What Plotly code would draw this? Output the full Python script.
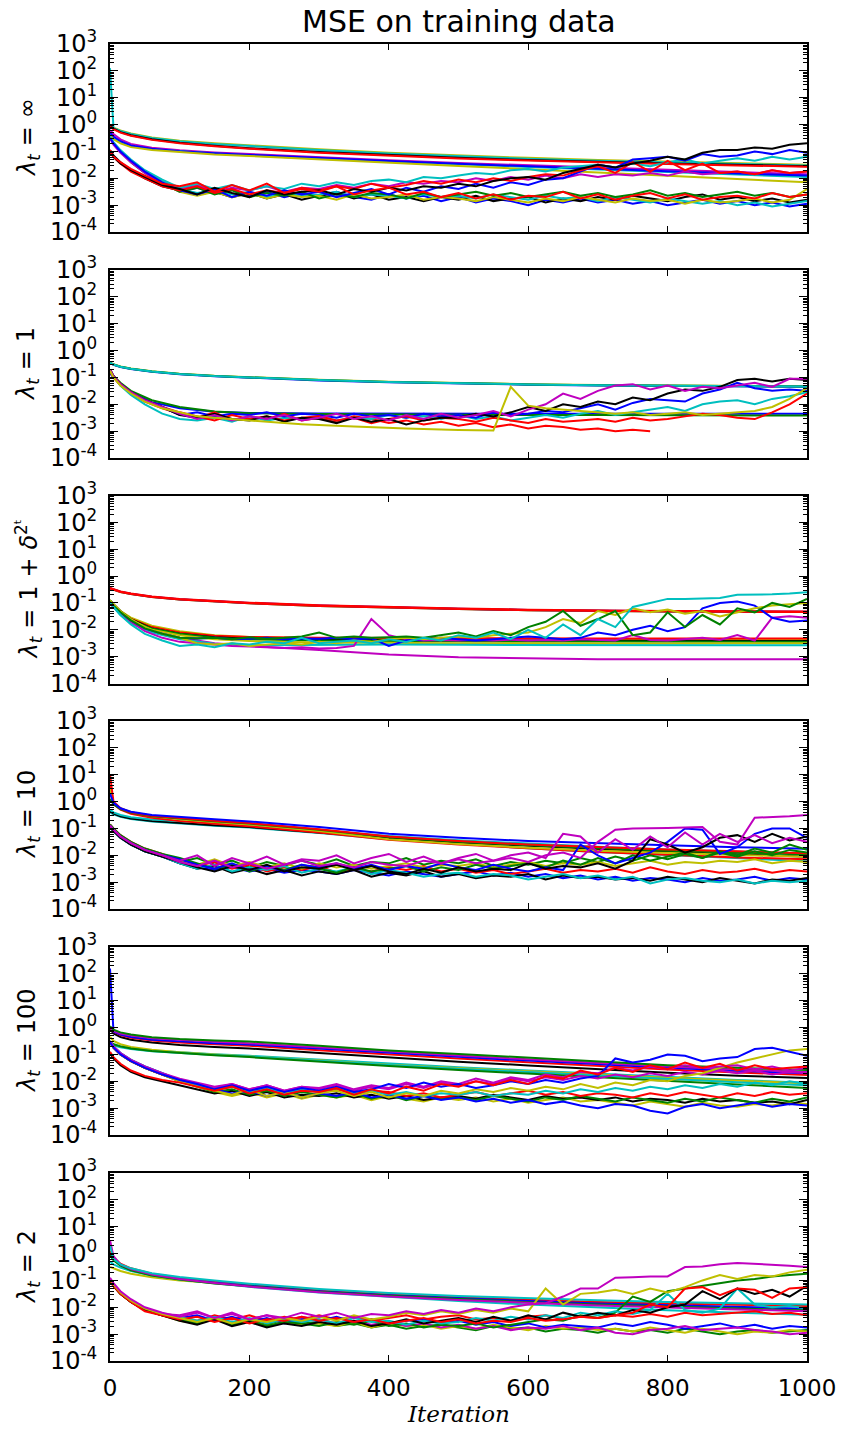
import plotly.graph_objects as go

# Sample iterations: smooth curves are stored coarsely, noisy runs every 25 iterations
ITER_SMOOTH = [0, 5, 15, 30, 60, 100, 150, 200, 300, 400, 500, 600, 700, 800, 900, 1000]
ITER_NOISY = [0, 5, 15, 30] + list(range(50, 1001, 25))

X_TICKS = [0, 200, 400, 600, 800, 1000]
Y_TICK_EXP = [-4, -3, -2, -1, 0, 1, 2, 3]

COLORS = {"b": "#0000ff", "g": "#008000", "r": "#ff0000", "c": "#00bfbf",
          "m": "#bf00bf", "y": "#bfbf00", "k": "#000000"}

# All series are log10(MSE)

# ---- lambda_t = inf ----
INF_SMOOTH_COLORS = ["y", "c", "k", "r", "m", "c", "b", "y"]
INF_SMOOTH = [
    [-0.05, -0.12, -0.22, -0.33, -0.48, -0.6, -0.7, -0.78, -0.92, -1.05, -1.15, -1.24, -1.32, -1.38, -1.44, -1.5],
    [2.1, -0.13, -0.24, -0.35, -0.5, -0.62, -0.72, -0.8, -0.95, -1.08, -1.18, -1.27, -1.35, -1.41, -1.47, -1.52],
    [-0.05, -0.15, -0.28, -0.4, -0.55, -0.68, -0.79, -0.88, -1.02, -1.14, -1.24, -1.32, -1.39, -1.45, -1.5, -1.55],
    [-0.07, -0.17, -0.3, -0.42, -0.57, -0.7, -0.81, -0.9, -1.05, -1.16, -1.26, -1.34, -1.41, -1.47, -1.52, -1.57],
    [-0.2, -0.35, -0.55, -0.72, -0.86, -0.96, -1.04, -1.1, -1.22, -1.33, -1.43, -1.52, -1.61, -1.69, -1.77, -1.85],
    [-0.35, -0.5, -0.66, -0.8, -0.92, -1.0, -1.08, -1.15, -1.27, -1.38, -1.48, -1.58, -1.68, -1.77, -1.86, -1.95],
    [-0.3, -0.45, -0.62, -0.78, -0.9, -0.99, -1.07, -1.13, -1.25, -1.36, -1.46, -1.56, -1.65, -1.74, -1.82, -1.9],
    [-0.4, -0.55, -0.7, -0.84, -0.95, -1.03, -1.11, -1.17, -1.3, -1.42, -1.54, -1.66, -1.78, -1.9, -2.02, -2.15],
]
INF_NOISY_COLORS = ["b", "k", "c", "y", "g", "m", "c", "b", "r", "k", "r"]
INF_NOISY = [
    [-0.5, -0.7, -1.0, -1.35, -1.75, -2.15,
     -2.5, -2.35, -2.55, -2.4, -2.65, -2.5, -2.7, -2.55,
     -2.65, -2.5, -2.7, -2.8, -2.6, -2.75, -2.65, -2.85,
     -2.7, -2.9, -2.75, -2.85, -3.0, -2.8, -2.9, -2.75,
     -2.9, -2.8, -2.95, -2.85, -3.0, -2.9, -2.8, -2.95,
     -2.85, -3.0, -2.9, -3.05, -2.95],
    [-0.95, -1.15, -1.4, -1.7, -2.0, -2.3,
     -2.45, -2.6, -2.5, -2.7, -2.55, -2.75, -2.6, -2.8,
     -2.65, -2.55, -2.75, -2.6, -2.8, -2.7, -2.85, -2.7,
     -2.8, -2.65, -2.85, -2.75, -2.7, -2.9, -2.75, -2.85,
     -2.7, -2.8, -2.65, -2.75, -2.85, -2.7, -2.6, -2.8,
     -2.7, -2.85, -2.75, -2.9, -2.8],
    [-0.5, -0.7, -1.0, -1.35, -1.75, -2.1,
     -2.4, -2.55, -2.45, -2.6, -2.5, -2.7, -2.55, -2.65,
     -2.6, -2.5, -2.7, -2.6, -2.65, -2.75, -2.6, -2.7,
     -2.65, -2.75, -2.6, -2.7, -2.8, -2.65, -2.75, -2.7,
     -2.85, -2.7, -2.8, -2.9, -2.75, -2.85, -2.95, -2.85,
     -3.0, -2.9, -3.05, -2.95, -2.85],
    [-0.45, -0.7, -1.0, -1.35, -1.75, -2.15,
     -2.5, -2.65, -2.5, -2.7, -2.55, -2.75, -2.6, -2.7,
     -2.65, -2.8, -2.6, -2.75, -2.7, -2.6, -2.8, -2.7,
     -2.75, -2.85, -2.7, -2.8, -2.9, -2.75, -2.85, -2.7,
     -2.8, -2.9, -2.75, -2.85, -2.8, -2.95, -2.8, -2.9,
     -2.85, -2.75, -2.9, -2.8, -2.4],
    [-0.5, -0.7, -1.0, -1.4, -1.8, -2.2,
     -2.5, -2.35, -2.6, -2.45, -2.7, -2.55, -2.65, -2.5,
     -2.75, -2.6, -2.7, -2.55, -2.6, -2.75, -2.55, -2.7,
     -2.6, -2.5, -2.65, -2.55, -2.7, -2.6, -2.5, -2.65,
     -2.55, -2.7, -2.6, -2.45, -2.65, -2.55, -2.7, -2.6,
     -2.5, -2.65, -2.55, -2.7, -2.6],
    [-0.5, -0.75, -1.05, -1.4, -1.8, -2.2,
     -2.4, -2.25, -2.5, -2.35, -2.45, -2.3, -2.5, -2.35,
     -2.4, -2.25, -2.35, -2.2, -2.3, -2.15, -2.2, -2.1,
     -2.15, -2.0, -2.1, -1.95, -2.05, -1.9, -2.0, -1.85,
     -1.95, -1.85, -1.9, -1.8, -1.9, -1.75, -1.85, -1.8,
     -1.75, -1.85, -1.7, -1.8, -1.75],
    [-0.45, -0.65, -0.95, -1.3, -1.7, -2.05,
     -2.35, -2.2, -2.4, -2.25, -2.45, -2.3, -2.4, -2.2,
     -2.3, -2.15, -2.25, -2.1, -2.05, -2.15, -1.95, -2.0,
     -1.9, -1.8, -1.85, -1.7, -1.65, -1.75, -1.6, -1.55,
     -1.5, -1.6, -1.45, -1.55, -1.4, -1.3, -1.45, -1.35,
     -1.25, -1.35, -1.2, -1.3, -1.2],
    [-0.5, -0.7, -1.0, -1.35, -1.75, -2.15,
     -2.45, -2.6, -2.4, -2.7, -2.5, -2.65, -2.45, -2.6,
     -2.5, -2.7, -2.55, -2.4, -2.6, -2.35, -2.5, -2.3,
     -2.4, -2.2, -2.35, -2.15, -2.25, -2.05, -2.0, -1.75,
     -1.5, -1.6, -1.3, -1.25, -1.2, -1.35, -1.1, -1.2,
     -1.15, -1.0, -1.1, -0.95, -1.05],
    [-0.95, -1.2, -1.45, -1.75, -2.0, -2.3,
     -2.45, -2.3, -2.55, -2.4, -2.6, -2.45, -2.55, -2.35,
     -2.45, -2.3, -2.4, -2.2, -2.35, -2.25, -2.1, -2.2,
     -2.05, -2.15, -2.0, -2.1, -1.95, -1.85, -1.9, -1.7,
     -1.55, -1.8, -1.4, -1.75, -1.35, -1.7, -1.45, -1.8,
     -1.75, -1.85, -1.7, -1.8, -1.75],
    [-1.0, -1.2, -1.45, -1.7, -1.95, -2.25,
     -2.4, -2.6, -2.35, -2.55, -2.7, -2.45, -2.6, -2.5,
     -2.45, -2.6, -2.4, -2.5, -2.35, -2.45, -2.3, -2.35,
     -2.2, -2.3, -2.1, -2.0, -1.95, -2.05, -1.8, -1.65,
     -1.5, -1.6, -1.45, -1.35, -1.2, -1.3, -1.05, -0.95,
     -0.95, -0.85, -0.9, -0.75, -0.7],
    [-1.0, -1.2, -1.4, -1.65, -1.9, -2.2,
     -2.3, -2.15, -2.5, -2.25, -2.45, -2.2, -2.55, -2.4,
     -2.5, -2.3, -2.6, -2.45, -2.35, -2.6, -2.5, -2.7,
     -2.55, -2.75, -2.6, -2.8, -2.65, -2.7, -2.5, -2.75,
     -2.6, -2.8, -2.65, -2.55, -2.75, -2.6, -2.8, -2.7,
     -2.65, -2.75, -2.55, -2.7, -2.6],
]

# ---- lambda_t = 1 ----
ONE_SMOOTH_COLORS = ["b", "g", "y", "b", "g", "c"]
ONE_SMOOTH = [
    [-0.85, -1.0, -1.25, -1.55, -1.92, -2.15, -2.28, -2.32, -2.34, -2.35, -2.35, -2.35, -2.35, -2.35, -2.35, -2.35],
    [-0.8, -0.95, -1.2, -1.5, -1.85, -2.1, -2.27, -2.33, -2.36, -2.38, -2.39, -2.4, -2.4, -2.4, -2.41, -2.42],
    [-0.44, -0.51, -0.59, -0.67, -0.77, -0.86, -0.94, -0.99, -1.09, -1.16, -1.21, -1.25, -1.28, -1.3, -1.32, -1.33],
    [-0.46, -0.53, -0.61, -0.69, -0.79, -0.88, -0.96, -1.01, -1.11, -1.18, -1.23, -1.27, -1.3, -1.32, -1.34, -1.35],
    [-0.45, -0.52, -0.6, -0.68, -0.78, -0.87, -0.95, -1.0, -1.1, -1.17, -1.22, -1.26, -1.29, -1.31, -1.33, -1.34],
    [-0.45, -0.52, -0.6, -0.68, -0.78, -0.87, -0.95, -1.0, -1.1, -1.17, -1.22, -1.26, -1.29, -1.31, -1.33, -1.34],
]
ONE_NOISY_COLORS = ["r", "c", "b", "r", "k", "m", "y"]
ONE_NOISY = [
    [-0.75, -1.0, -1.3, -1.6, -1.9, -2.15,
     -2.35, -2.5, -2.3, -2.6, -2.45, -2.55, -2.35, -2.6,
     -2.5, -2.65, -2.45, -2.55, -2.7, -2.6, -2.75, -2.65,
     -2.8, -2.7, -2.85, -2.75, -2.9, -2.8, -2.85, -2.95,
     -2.9, -3.0, -2.95, -3.0, None, None, None, None,
     None, None, None, None, None],
    [-0.7, -0.95, -1.3, -1.65, -2.0, -2.35,
     -2.55, -2.6, -2.5, -2.65, -2.45, -2.6, -2.5, -2.55,
     -2.45, -2.6, -2.5, -2.55, -2.4, -2.5, -2.45, -2.55,
     -2.4, -2.55, -2.45, -2.6, -2.5, -2.4, -2.5, -2.35,
     -2.25, -2.4, -2.3, -2.2, -2.1, -2.25, -2.0, -1.9,
     -1.85, -2.0, -1.8, -1.7, -1.55],
    [-0.7, -0.95, -1.25, -1.55, -1.85, -2.1,
     -2.4, -2.3, -2.45, -2.35, -2.4, -2.3, -2.45, -2.35,
     -2.4, -2.5, -2.35, -2.45, -2.4, -2.5, -2.35, -2.45,
     -2.4, -2.5, -2.3, -2.4, -2.35, -2.25, -2.3, -2.15,
     -2.0, -2.2, -1.95, -1.8, -1.85, -1.9, -1.6, -1.45,
     -1.2, -1.4, -1.5, -1.45, -1.5],
    [-0.7, -0.95, -1.25, -1.55, -1.85, -2.1,
     -2.3, -2.45, -2.6, -2.4, -2.55, -2.45, -2.6, -2.5,
     -2.45, -2.6, -2.5, -2.7, -2.55, -2.45, -2.6, -2.5,
     -2.55, -2.65, -2.5, -2.6, -2.7, -2.55, -2.65, -2.6,
     -2.55, -2.65, -2.5, -2.6, -2.55, -2.45, -2.35, -2.4,
     -2.5, -2.55, -2.3, -2.0, -1.6],
    [-0.7, -0.95, -1.25, -1.55, -1.85, -2.1,
     -2.4, -2.5, -2.35, -2.55, -2.6, -2.45, -2.65, -2.5,
     -2.55, -2.7, -2.5, -2.65, -2.55, -2.75, -2.6, -2.5,
     -2.5, -2.35, -2.45, -2.3, -2.1, -2.25, -2.0, -2.1,
     -1.9, -2.0, -1.75, -1.85, -1.6, -1.45, -1.5, -1.35,
     -1.1, -1.05, -1.15, -1.05, -1.1],
    [-0.7, -0.95, -1.25, -1.55, -1.85, -2.1,
     -2.35, -2.55, -2.4, -2.6, -2.45, -2.55, -2.4, -2.6,
     -2.5, -2.35, -2.55, -2.45, -2.6, -2.4, -2.55, -2.35,
     -2.5, -2.4, -2.25, -2.45, -2.2, -2.0, -1.6, -1.8,
     -1.5, -1.3, -1.25, -1.45, -1.3, -1.5, -1.35, -1.4,
     -1.3, -1.2, -1.35, -1.05, -1.05],
    [-0.75, -1.0, -1.3, -1.6, -1.9, -2.15,
     -2.3, -2.45, -2.5, -2.55, -2.62, -2.66, -2.7, -2.74,
     -2.78, -2.8, -2.83, -2.86, -2.88, -2.9, -2.92, -2.95,
     -2.96, -2.97, -2.98, -1.35, -2.05, -2.15, -2.2, -2.25,
     -2.3, -2.35, -2.3, -2.4, -2.35, -2.3, -2.4, -2.35,
     -2.3, -2.25, -2.1, -1.8, -1.4],
]

# ---- lambda_t = 1 + delta^(2^t) ----
DELTA_SMOOTH_COLORS = ["g", "b", "r", "r", "y", "r", "k", "g", "y", "m", "c"]
DELTA_SMOOTH = [
    [-0.46, -0.51, -0.59, -0.67, -0.78, -0.87, -0.95, -1.01, -1.11, -1.18, -1.23, -1.27, -1.3, -1.32, -1.33, -1.34],
    [-0.45, -0.5, -0.58, -0.66, -0.77, -0.86, -0.94, -1.0, -1.1, -1.17, -1.22, -1.26, -1.29, -1.31, -1.32, -1.33],
    [-0.44, -0.49, -0.57, -0.65, -0.76, -0.85, -0.93, -0.99, -1.09, -1.16, -1.21, -1.25, -1.28, -1.3, -1.31, -1.32],
    [-0.46, -0.51, -0.59, -0.67, -0.78, -0.87, -0.95, -1.01, -1.11, -1.18, -1.23, -1.27, -1.3, -1.32, -1.33, -1.34],
    [-0.9, -1.05, -1.3, -1.55, -1.85, -2.05, -2.2, -2.27, -2.32, -2.34, -2.35, -2.35, -2.36, -2.36, -2.36, -2.36],
    [-0.95, -1.1, -1.35, -1.6, -1.9, -2.1, -2.22, -2.27, -2.3, -2.31, -2.32, -2.32, -2.32, -2.32, -2.32, -2.32],
    [-0.9, -1.05, -1.3, -1.6, -1.95, -2.15, -2.28, -2.33, -2.37, -2.39, -2.4, -2.41, -2.41, -2.41, -2.41, -2.42],
    [-0.95, -1.1, -1.35, -1.65, -1.95, -2.15, -2.3, -2.36, -2.4, -2.42, -2.43, -2.44, -2.44, -2.44, -2.44, -2.45],
    [-0.95, -1.1, -1.35, -1.65, -2.0, -2.2, -2.35, -2.42, -2.47, -2.49, -2.5, -2.5, -2.51, -2.51, -2.5, -2.5],
    [-1.0, -1.15, -1.4, -1.7, -2.05, -2.3, -2.5, -2.6, -2.75, -2.92, -3.02, -3.07, -3.1, -3.1, -3.1, -3.1],
    [-1.0, -1.15, -1.45, -1.75, -2.1, -2.35, -2.52, -2.58, -2.56, -2.55, -2.56, -2.57, -2.58, -2.58, -2.58, -2.58],
]
DELTA_NOISY_COLORS = ["m", "b", "y", "g", "c"]
DELTA_NOISY = [
    [-1.0, -1.15, -1.4, -1.7, -2.05, -2.3,
     -2.45, -2.5, -2.55, -2.6, -2.62, -2.65, -2.68, -2.65,
     -2.7, -2.68, -2.6, -1.6, -2.2, -2.35, -2.4, -2.38,
     -2.4, -2.38, -2.4, -2.37, -2.4, -2.38, -2.4, -2.35,
     -2.38, -2.4, -2.2, -2.38, -2.4, -2.35, -2.3, -2.38,
     -2.2, -2.4, -1.55, -1.5, -1.55],
    [-0.95, -1.1, -1.35, -1.65, -1.95, -2.15,
     -2.3, -2.32, -2.3, -2.35, -2.33, -2.3, -2.35, -2.32,
     -2.33, -2.3, -2.35, -2.32, -2.6, -2.4, -2.35, -2.3,
     -2.35, -2.4, -2.35, -2.3, -2.25, -2.3, -2.35, -2.3,
     -2.1, -2.2, -2.0, -1.85, -2.05, -1.9, -1.2, -1.0,
     -0.95, -1.1, -1.55, -1.7, -1.65],
    [-0.9, -1.05, -1.3, -1.6, -1.9, -2.15,
     -2.3, -2.5, -2.55, -2.5, -2.6, -2.55, -2.5, -2.55,
     -2.45, -2.5, -2.4, -2.45, -2.35, -2.3, -2.35, -2.3,
     -2.25, -2.3, -2.2, -2.15, -2.1, -1.9, -1.6, -1.75,
     -1.3, -1.45, -1.2, -1.35, -1.25, -1.4, -1.3, -1.5,
     -1.35, -1.2, -1.1, -1.05, -1.0],
    [-0.95, -1.1, -1.35, -1.65, -1.95, -2.15,
     -2.3, -2.32, -2.3, -2.35, -2.28, -2.33, -2.3, -2.25,
     -2.1, -2.3, -2.25, -2.3, -2.28, -2.25, -2.3, -2.2,
     -2.1, -2.25, -2.05, -2.2, -1.9, -1.7, -1.3, -1.85,
     -1.6, -1.3, -2.2, -2.1, -1.35, -1.9, -1.45, -1.8,
     -1.2, -1.35, -1.0, -1.15, -0.85],
    [-1.0, -1.15, -1.45, -1.8, -2.15, -2.4,
     -2.6, -2.55, -2.65, -2.5, -2.55, -2.45, -2.5, -2.3,
     -2.5, -2.45, -2.4, -2.5, -2.35, -2.45, -2.3, -2.4,
     -2.2, -2.3, -2.1, -2.35, -2.0, -2.3, -1.8, -2.2,
     -1.6, -1.9, -1.15, -1.0, -0.85, -0.85, -0.83, -0.82,
     -0.7, -0.7, -0.68, -0.65, -0.6],
]

# ---- lambda_t = 10 ----
TEN_SMOOTH_COLORS = ["c", "k", "c", "r", "y", "g", "r", "b"]
TEN_SMOOTH = [
    [-0.4, -0.48, -0.57, -0.65, -0.74, -0.82, -0.9, -0.97, -1.17, -1.4, -1.58, -1.74, -1.88, -2.0, -2.12, -2.22],
    [-0.35, -0.45, -0.55, -0.63, -0.72, -0.8, -0.88, -0.95, -1.15, -1.36, -1.52, -1.65, -1.77, -1.87, -1.96, -2.05],
    [-0.3, -0.4, -0.5, -0.58, -0.67, -0.74, -0.81, -0.88, -1.07, -1.28, -1.44, -1.57, -1.68, -1.78, -1.87, -1.95],
    [0.6, -0.1, -0.3, -0.45, -0.6, -0.72, -0.83, -0.92, -1.15, -1.42, -1.6, -1.75, -1.88, -1.98, -2.08, -2.15],
    [0.5, -0.05, -0.25, -0.4, -0.55, -0.66, -0.76, -0.85, -1.1, -1.4, -1.58, -1.72, -1.83, -1.92, -1.99, -2.05],
    [0.1, -0.1, -0.28, -0.42, -0.55, -0.64, -0.73, -0.82, -1.05, -1.32, -1.5, -1.63, -1.74, -1.83, -1.9, -1.97],
    [1.0, 0.0, -0.25, -0.4, -0.53, -0.62, -0.71, -0.8, -1.03, -1.3, -1.47, -1.6, -1.7, -1.78, -1.85, -1.92],
    [0.3, -0.05, -0.25, -0.38, -0.5, -0.58, -0.66, -0.74, -0.95, -1.2, -1.35, -1.47, -1.56, -1.63, -1.7, -1.76],
]
TEN_NOISY_COLORS = ["g", "b", "r", "y", "k", "c", "g", "b", "k", "m", "m"]
TEN_NOISY = [
    [-0.9, -1.05, -1.3, -1.55, -1.8, -2.0,
     -2.25, -2.1, -2.35, -2.2, -2.45, -2.25, -2.4, -2.2,
     -2.35, -2.15, -2.4, -2.25, -2.3, -2.1, -2.35, -2.2,
     -2.3, -2.15, -2.4, -2.25, -2.35, -2.2, -2.3, -2.1,
     -2.25, -2.05, -2.2, -2.0, -2.15, -1.95, -2.1, -1.9,
     -2.05, -1.85, -2.0, -1.8, -1.9],
    [-0.95, -1.1, -1.35, -1.6, -1.85, -2.05,
     -2.3, -2.45, -2.55, -2.45, -2.6, -2.5, -2.65, -2.55,
     -2.6, -2.7, -2.55, -2.65, -2.75, -2.6, -2.7, -2.8,
     -2.7, -2.6, -2.75, -2.65, -2.8, -2.7, -2.85, -2.75,
     -2.9, -2.8, -2.95, -2.85, -2.9, -3.0, -2.85, -2.95,
     -2.9, -2.8, -2.95, -2.85, -2.9],
    [-0.85, -1.0, -1.25, -1.5, -1.75, -1.95,
     -2.2, -2.4, -2.25, -2.5, -2.35, -2.6, -2.45, -2.55,
     -2.4, -2.65, -2.5, -2.6, -2.45, -2.55, -2.4, -2.6,
     -2.5, -2.65, -2.55, -2.7, -2.6, -2.5, -2.65, -2.55,
     -2.6, -2.5, -2.65, -2.45, -2.6, -2.7, -2.55, -2.65,
     -2.6, -2.5, -2.65, -2.55, -2.6],
    [-0.9, -1.05, -1.3, -1.55, -1.8, -2.0,
     -2.2, -2.35, -2.15, -2.4, -2.25, -2.45, -2.3, -2.5,
     -2.3, -2.45, -2.35, -2.5, -2.4, -2.3, -2.45, -2.35,
     -2.4, -2.3, -2.45, -2.35, -2.25, -2.4, -2.3, -2.35,
     -2.25, -2.4, -2.3, -2.2, -2.35, -2.25, -2.3, -2.2,
     -2.25, -2.15, -2.3, -2.2, -2.25],
    [-0.95, -1.1, -1.35, -1.6, -1.85, -2.05,
     -2.3, -2.5, -2.4, -2.65, -2.5, -2.7, -2.55, -2.75,
     -2.6, -2.7, -2.55, -2.8, -2.65, -2.75, -2.6, -2.8,
     -2.7, -2.85, -2.75, -2.8, -2.7, -2.9, -2.75, -2.85,
     -2.8, -2.9, -2.85, -2.95, -2.8, -2.9, -3.0, -2.85,
     -2.95, -3.05, -2.9, -2.95, -2.85],
    [-0.95, -1.1, -1.35, -1.6, -1.85, -2.05,
     -2.3, -2.5, -2.35, -2.6, -2.45, -2.55, -2.4, -2.65,
     -2.5, -2.6, -2.45, -2.7, -2.55, -2.65, -2.8, -2.7,
     -2.65, -2.8, -2.7, -2.75, -2.9, -2.8, -2.7, -2.85,
     -2.75, -2.9, -2.8, -3.05, -2.9, -2.85, -2.95, -3.0,
     -2.9, -3.05, -2.95, -3.0, -2.95],
    [-0.85, -1.0, -1.25, -1.5, -1.75, -1.95,
     -2.1, -2.3, -2.5, -2.35, -2.6, -2.4, -2.55, -2.35,
     -2.5, -2.65, -2.45, -2.6, -2.5, -2.4, -2.6, -2.45,
     -2.55, -2.35, -2.5, -2.4, -2.3, -2.45, -2.2, -2.35,
     -2.1, -2.3, -2.0, -2.2, -2.05, -1.9, -2.1, -1.85,
     -2.0, -1.75, -1.9, -1.6, -1.8],
    [-0.9, -1.05, -1.3, -1.55, -1.8, -2.0,
     -2.15, -2.35, -2.5, -2.3, -2.55, -2.4, -2.6, -2.35,
     -2.45, -2.3, -2.5, -2.35, -2.55, -2.4, -2.5, -2.3,
     -2.45, -2.55, -2.35, -2.5, -2.6, -2.45, -2.55, -1.6,
     -2.0, -2.3, -2.1, -1.9, -1.5, -1.0, -1.05, -1.95,
     -1.7, -1.2, -1.0, -1.0, -1.35],
    [-0.95, -1.1, -1.35, -1.6, -1.85, -2.05,
     -2.25, -2.45, -2.6, -2.4, -2.55, -2.35, -2.6, -2.45,
     -2.5, -2.35, -2.55, -2.4, -2.6, -2.7, -2.5, -2.65,
     -2.45, -2.6, -2.5, -2.55, -2.3, -2.5, -2.4, -2.45,
     -2.3, -2.5, -2.2, -1.4, -1.6, -1.9, -1.7, -1.35,
     -1.25, -1.5, -1.2, -1.45, -1.3],
    [-0.9, -1.05, -1.3, -1.55, -1.8, -2.0,
     -2.2, -2.0, -2.4, -2.1, -2.3, -2.05, -2.35, -2.15,
     -2.2, -2.0, -2.3, -2.1, -1.95, -2.25, -2.05, -2.3,
     -2.1, -1.95, -2.2, -2.0, -1.9, -2.1, -1.2, -1.3,
     -1.9, -1.4, -1.8, -1.3, -1.7, -1.15, -1.6, -1.2,
     -1.5, -1.25, -1.55, -1.35, -1.5],
    [-0.9, -1.05, -1.3, -1.55, -1.8, -2.0,
     -2.25, -2.4, -2.2, -2.45, -2.3, -2.5, -2.35, -2.2,
     -2.4, -2.3, -2.45, -2.25, -2.35, -2.4, -2.2, -2.3,
     -2.15, -2.3, -2.2, -2.1, -2.25, -2.0, -1.9, -2.1,
     -1.5, -1.05, -1.0, -1.0, -0.98, -0.97, -0.95, -1.5,
     -1.6, -0.6, -0.58, -0.55, -0.5],
]

# ---- lambda_t = 100 ----
HUNDRED_SMOOTH_COLORS = ["c", "y", "c", "g", "k", "r", "b", "m", "g"]
HUNDRED_SMOOTH = [
    [-0.55, -0.62, -0.7, -0.77, -0.85, -0.92, -0.99, -1.05, -1.2, -1.35, -1.48, -1.6, -1.72, -1.84, -1.95, -2.05],
    [-0.35, -0.5, -0.62, -0.72, -0.83, -0.92, -1.0, -1.07, -1.22, -1.38, -1.51, -1.63, -1.75, -1.87, -1.98, -2.08],
    [-0.6, -0.66, -0.73, -0.8, -0.88, -0.95, -1.02, -1.08, -1.24, -1.39, -1.53, -1.66, -1.79, -1.92, -2.04, -2.15],
    [-0.55, -0.62, -0.7, -0.78, -0.87, -0.95, -1.03, -1.1, -1.27, -1.43, -1.58, -1.72, -1.86, -1.99, -2.12, -2.25],
    [-0.05, -0.22, -0.35, -0.45, -0.56, -0.65, -0.72, -0.78, -0.95, -1.12, -1.27, -1.41, -1.55, -1.68, -1.79, -1.88],
    [0.0, -0.15, -0.28, -0.38, -0.48, -0.56, -0.62, -0.68, -0.84, -1.0, -1.15, -1.29, -1.43, -1.56, -1.67, -1.77],
    [2.2, -0.15, -0.26, -0.35, -0.45, -0.52, -0.58, -0.63, -0.79, -0.95, -1.09, -1.23, -1.37, -1.5, -1.61, -1.7],
    [0.0, -0.12, -0.22, -0.3, -0.4, -0.47, -0.53, -0.58, -0.74, -0.9, -1.04, -1.18, -1.32, -1.45, -1.56, -1.65],
    [0.05, -0.08, -0.18, -0.26, -0.36, -0.43, -0.48, -0.52, -0.68, -0.85, -0.98, -1.12, -1.27, -1.4, -1.5, -1.58],
]
HUNDRED_NOISY_COLORS = ["y", "m", "k", "g", "b", "r", "c", "y", "m", "b", "r"]
HUNDRED_NOISY = [
    [-0.55, -0.75, -1.0, -1.25, -1.5, -1.75,
     -2.0, -2.2, -2.4, -2.55, -2.4, -2.6, -2.45, -2.65,
     -2.5, -2.6, -2.5, -2.7, -2.55, -2.65, -2.75, -2.6,
     -2.7, -2.6, -2.75, -2.65, -2.8, -2.7, -2.6, -2.75,
     -2.7, -2.8, -2.9, -2.75, -2.85, -2.95, -2.8, -2.9,
     -2.95, -2.85, -2.9, -2.8, -2.85],
    [-0.55, -0.75, -1.0, -1.25, -1.5, -1.75,
     -1.95, -2.1, -2.25, -2.1, -2.3, -2.15, -2.35, -2.2,
     -2.3, -2.15, -2.35, -2.2, -2.3, -2.1, -2.25, -2.05,
     -2.15, -2.0, -2.1, -1.9, -2.0, -1.85, -1.95, -1.8,
     -1.9, -1.75, -1.85, -1.7, -1.8, -1.65, -1.75, -1.6,
     -1.7, -1.6, -1.75, -1.65, -1.7],
    [-0.95, -1.15, -1.4, -1.65, -1.85, -2.0,
     -2.15, -2.3, -2.45, -2.35, -2.55, -2.4, -2.6, -2.5,
     -2.55, -2.45, -2.6, -2.5, -2.65, -2.55, -2.7, -2.6,
     -2.55, -2.65, -2.5, -2.6, -2.7, -2.55, -2.65, -2.6,
     -2.7, -2.6, -2.75, -2.65, -2.7, -2.8, -2.65, -2.75,
     -2.7, -2.8, -2.75, -2.85, -2.7],
    [-0.55, -0.75, -1.0, -1.25, -1.5, -1.75,
     -2.0, -2.2, -2.4, -2.3, -2.5, -2.35, -2.55, -2.4,
     -2.5, -2.6, -2.45, -2.65, -2.5, -2.7, -2.55, -2.65,
     -2.6, -2.7, -2.55, -2.65, -2.75, -2.6, -2.7, -2.55,
     -2.65, -2.75, -2.6, -2.7, -2.8, -2.65, -2.75, -2.6,
     -2.7, -2.8, -2.65, -2.75, -2.6],
    [-0.5, -0.7, -0.95, -1.2, -1.45, -1.7,
     -1.95, -2.15, -2.3, -2.45, -2.35, -2.55, -2.4, -2.6,
     -2.45, -2.55, -2.4, -2.6, -2.5, -2.65, -2.55, -2.7,
     -2.6, -2.75, -2.65, -2.8, -2.7, -2.85, -2.75, -2.9,
     -3.0, -2.85, -2.9, -3.1, -3.2, -2.95, -2.85, -3.0,
     -2.9, -2.8, -2.95, -2.85, -2.9],
    [-0.55, -0.75, -1.0, -1.25, -1.5, -1.75,
     -1.95, -2.15, -2.3, -2.2, -2.4, -2.25, -2.45, -2.3,
     -2.4, -2.3, -2.45, -2.35, -2.4, -2.55, -2.45, -2.6,
     -2.5, -2.4, -2.55, -2.45, -2.35, -2.5, -2.4, -2.55,
     -2.45, -2.5, -2.6, -2.45, -2.55, -2.4, -2.5, -2.6,
     -2.45, -2.55, -2.4, -2.5, -2.45],
    [-0.5, -0.7, -0.95, -1.2, -1.45, -1.7,
     -1.95, -2.15, -2.3, -2.2, -2.4, -2.25, -2.45, -2.3,
     -2.4, -2.25, -2.45, -2.35, -2.5, -2.4, -2.55, -2.45,
     -2.5, -2.4, -2.55, -2.45, -2.5, -2.35, -2.45, -2.3,
     -2.4, -2.25, -2.35, -2.2, -2.3, -2.15, -2.25, -2.1,
     -2.2, -2.05, -2.15, -2.0, -2.1],
    [-0.55, -0.75, -1.0, -1.25, -1.5, -1.75,
     -2.0, -2.2, -2.35, -2.5, -2.3, -2.55, -2.4, -2.6,
     -2.45, -2.35, -2.55, -2.4, -2.6, -2.45, -2.55, -2.35,
     -2.45, -2.3, -2.4, -2.25, -2.35, -2.2, -2.3, -2.1,
     -2.25, -2.05, -2.15, -1.95, -2.0, -1.8, -1.7, -1.5,
     -1.3, -1.15, -1.0, -0.85, -0.8],
    [-0.5, -0.7, -0.95, -1.2, -1.45, -1.7,
     -1.9, -2.05, -2.2, -2.1, -2.3, -2.15, -2.35, -2.2,
     -2.25, -2.1, -2.3, -2.15, -2.25, -2.05, -2.2, -2.0,
     -2.1, -1.9, -2.05, -1.85, -1.95, -1.75, -1.85, -1.65,
     -1.7, -1.5, -1.6, -1.45, -1.55, -1.4, -1.5, -1.45,
     -1.4, -1.55, -1.45, -1.6, -1.5],
    [-0.55, -0.75, -1.0, -1.25, -1.5, -1.75,
     -1.95, -2.1, -2.3, -2.15, -2.35, -2.2, -2.4, -2.25,
     -2.35, -2.2, -2.4, -2.3, -2.1, -2.25, -2.05, -2.2,
     -2.1, -2.25, -2.15, -2.0, -2.1, -1.95, -2.05, -1.9,
     -1.8, -1.15, -1.3, -1.2, -1.0, -1.05, -1.25, -1.15,
     -1.1, -0.8, -0.75, -0.9, -1.05],
    [-0.9, -1.1, -1.35, -1.6, -1.8, -1.95,
     -2.05, -2.2, -2.35, -2.2, -2.45, -2.3, -2.5, -2.35,
     -2.4, -2.25, -2.5, -2.3, -2.45, -2.2, -2.35, -2.1,
     -2.2, -2.0, -2.15, -1.95, -2.1, -1.8, -1.9, -1.6,
     -1.75, -1.5, -1.65, -1.4, -1.55, -1.3, -1.5, -1.35,
     -1.6, -1.4, -1.55, -1.5, -1.45],
]

# ---- lambda_t = 2 ----
TWO_SMOOTH_COLORS = ["y", "c", "r", "b", "g", "m", "c"]
TWO_SMOOTH = [
    [-0.5, -0.56, -0.65, -0.75, -0.88, -1.0, -1.1, -1.18, -1.35, -1.5, -1.62, -1.73, -1.83, -1.92, -2.0, -2.08],
    [-0.3, -0.4, -0.52, -0.65, -0.82, -0.97, -1.11, -1.24, -1.45, -1.62, -1.77, -1.9, -2.01, -2.11, -2.2, -2.28],
    [0.1, -0.15, -0.38, -0.55, -0.75, -0.9, -1.04, -1.17, -1.38, -1.53, -1.64, -1.73, -1.8, -1.86, -1.91, -1.95],
    [0.0, -0.2, -0.42, -0.6, -0.8, -0.95, -1.09, -1.2, -1.4, -1.55, -1.67, -1.77, -1.86, -1.93, -1.99, -2.05],
    [-0.05, -0.25, -0.45, -0.62, -0.82, -0.97, -1.11, -1.22, -1.42, -1.57, -1.7, -1.81, -1.9, -1.98, -2.05, -2.12],
    [0.5, -0.1, -0.4, -0.58, -0.78, -0.95, -1.1, -1.23, -1.44, -1.6, -1.73, -1.84, -1.93, -2.01, -2.08, -2.15],
    [0.3, -0.2, -0.4, -0.55, -0.73, -0.87, -1.0, -1.12, -1.32, -1.47, -1.58, -1.67, -1.74, -1.8, -1.85, -1.9],
]
TWO_NOISY_COLORS = ["g", "r", "y", "b", "m", "g", "c", "k", "r", "y", "m"]
TWO_NOISY = [
    [-1.0, -1.2, -1.5, -1.8, -2.1, -2.3,
     -2.4, -2.55, -2.45, -2.6, -2.5, -2.65, -2.45, -2.6,
     -2.55, -2.7, -2.6, -2.75, -2.65, -2.8, -2.7, -2.65,
     -2.75, -2.85, -2.7, -2.8, -2.75, -2.9, -2.8, -2.85,
     -2.95, -2.8, -2.9, -2.85, -2.95, -2.8, -2.9, -3.0,
     -2.9, -2.85, -2.95, -2.9, -2.85],
    [-1.0, -1.2, -1.5, -1.8, -2.1, -2.3,
     -2.35, -2.5, -2.3, -2.45, -2.3, -2.5, -2.35, -2.45,
     -2.3, -2.45, -2.35, -2.5, -2.4, -2.3, -2.45, -2.35,
     -2.3, -2.45, -2.4, -2.5, -2.35, -2.3, -2.45, -2.35,
     -2.4, -2.3, -2.35, -2.25, -2.35, -2.2, -2.3, -2.25,
     -2.2, -2.15, -2.25, -2.2, -2.3],
    [-1.0, -1.2, -1.5, -1.8, -2.1, -2.3,
     -2.5, -2.6, -2.45, -2.65, -2.5, -2.7, -2.55, -2.65,
     -2.6, -2.7, -2.55, -2.75, -2.6, -2.7, -2.65, -2.8,
     -2.7, -2.8, -2.65, -2.75, -2.85, -2.7, -2.8, -2.75,
     -2.85, -2.8, -2.9, -2.75, -2.85, -2.95, -2.8, -2.9,
     -3.0, -2.9, -2.95, -2.85, -2.9],
    [-0.95, -1.15, -1.45, -1.75, -2.05, -2.25,
     -2.4, -2.3, -2.5, -2.35, -2.55, -2.4, -2.6, -2.45,
     -2.5, -2.35, -2.55, -2.45, -2.6, -2.5, -2.45, -2.6,
     -2.5, -2.65, -2.55, -2.7, -2.6, -2.75, -2.65, -2.7,
     -2.75, -2.6, -2.7, -2.55, -2.65, -2.8, -2.7, -2.6,
     -2.75, -2.65, -2.8, -2.7, -2.75],
    [-0.95, -1.15, -1.45, -1.75, -2.05, -2.25,
     -2.3, -2.15, -2.4, -2.2, -2.45, -2.3, -2.5, -2.35,
     -2.45, -2.6, -2.5, -2.65, -2.55, -2.7, -2.6, -2.75,
     -2.65, -2.8, -2.7, -2.85, -2.75, -2.8, -2.7, -2.85,
     -2.75, -2.95, -3.0, -2.85, -2.8, -2.7, -2.85, -2.8,
     -2.75, -2.85, -2.9, -3.0, -2.95],
    [-1.0, -1.2, -1.5, -1.8, -2.1, -2.3,
     -2.45, -2.6, -2.4, -2.65, -2.5, -2.7, -2.55, -2.6,
     -2.7, -2.55, -2.65, -2.5, -2.7, -2.6, -2.75, -2.65,
     -2.7, -2.6, -2.75, -2.65, -2.55, -2.45, -2.5, -2.3,
     -2.4, -2.2, -1.6, -1.8, -1.4, -1.3, -1.2, -1.1,
     -1.0, -0.95, -0.85, -0.8, -0.75],
    [-0.95, -1.15, -1.45, -1.75, -2.05, -2.25,
     -2.35, -2.5, -2.35, -2.55, -2.4, -2.6, -2.45, -2.55,
     -2.45, -2.6, -2.4, -2.55, -2.5, -2.65, -2.5, -2.6,
     -2.55, -2.4, -2.5, -2.35, -2.45, -2.3, -2.4, -2.2,
     -2.3, -2.15, -2.25, -2.1, -1.5, -2.1, -2.2, -2.05,
     -1.3, -1.9, -2.0, -1.95, -2.05],
    [-1.0, -1.2, -1.5, -1.8, -2.1, -2.3,
     -2.5, -2.65, -2.45, -2.7, -2.55, -2.75, -2.6, -2.7,
     -2.55, -2.65, -2.5, -2.7, -2.6, -2.45, -2.6, -2.5,
     -2.4, -2.55, -2.35, -2.5, -2.3, -2.45, -2.2, -2.35,
     -2.2, -2.3, -2.1, -2.2, -2.0, -1.9, -1.4, -1.7,
     -1.3, -1.5, -1.35, -1.6, -1.2],
    [-1.0, -1.2, -1.5, -1.8, -2.15, -2.3,
     -2.45, -2.35, -2.55, -2.4, -2.6, -2.45, -2.5, -2.35,
     -2.5, -2.4, -2.55, -2.45, -2.6, -2.5, -2.4, -2.55,
     -2.45, -2.6, -2.5, -2.55, -2.4, -2.5, -2.45, -2.35,
     -2.4, -2.3, -2.2, -1.9, -2.0, -1.3, -1.25, -1.55,
     -1.3, -1.35, -1.65, -1.3, -1.25],
    [-0.95, -1.15, -1.45, -1.75, -2.05, -2.25,
     -2.4, -2.55, -2.4, -2.6, -2.45, -2.55, -2.4, -2.5,
     -2.35, -2.5, -2.3, -2.45, -2.35, -2.2, -2.3, -2.15,
     -2.25, -2.1, -2.2, -2.05, -2.15, -1.3, -1.9, -1.5,
     -1.45, -1.35, -1.5, -1.3, -1.45, -1.25, -1.0, -0.8,
     -0.95, -0.8, -0.85, -0.7, -0.6],
    [-0.9, -1.1, -1.4, -1.7, -2.0, -2.2,
     -2.35, -2.2, -2.4, -2.25, -2.45, -2.3, -2.4, -2.2,
     -2.35, -2.2, -2.4, -2.25, -2.3, -2.15, -2.25, -2.1,
     -2.2, -2.05, -2.15, -2.0, -1.9, -1.85, -1.6, -1.3,
     -1.3, -0.9, -0.88, -0.85, -0.85, -0.5, -0.48, -0.4,
     -0.35, -0.38, -0.42, -0.45, -0.5],
]

SP = "\u2004"  # three-per-em space around math operators
PANEL_LABELS = [
    f"<i>λ</i><sub><i>t</i></sub>{SP}={SP}∞",
    f"<i>λ</i><sub><i>t</i></sub>{SP}={SP}1",
    f"<i>λ</i><sub><i>t</i></sub>{SP}={SP}1{SP}+{SP}<i>δ</i><sup>2ᵗ</sup>",
    f"<i>λ</i><sub><i>t</i></sub>{SP}={SP}10",
    f"<i>λ</i><sub><i>t</i></sub>{SP}={SP}100",
    f"<i>λ</i><sub><i>t</i></sub>{SP}={SP}2",
]

PANELS = [
    (INF_SMOOTH_COLORS, INF_SMOOTH, INF_NOISY_COLORS, INF_NOISY),
    (ONE_SMOOTH_COLORS, ONE_SMOOTH, ONE_NOISY_COLORS, ONE_NOISY),
    (DELTA_SMOOTH_COLORS, DELTA_SMOOTH, DELTA_NOISY_COLORS, DELTA_NOISY),
    (TEN_SMOOTH_COLORS, TEN_SMOOTH, TEN_NOISY_COLORS, TEN_NOISY),
    (HUNDRED_SMOOTH_COLORS, HUNDRED_SMOOTH, HUNDRED_NOISY_COLORS, HUNDRED_NOISY),
    (TWO_SMOOTH_COLORS, TWO_SMOOTH, TWO_NOISY_COLORS, TWO_NOISY),
]


def to_mse(log_values):
    return [None if v is None else 10 ** v for v in log_values]


# Page geometry (pixels)
W, H = 841, 1430
LEFT, RIGHT = 110, 807
TOPS = [44, 270, 495.5, 721, 947, 1173]
PANEL_H = 188

FONT = "DejaVu Sans"
Y_TICK_VALS = [10.0 ** e for e in Y_TICK_EXP]
Y_TICK_TEXT = [f"10<sup>{e}</sup>" for e in Y_TICK_EXP]
Y_MINOR_VALS = [m * 10.0 ** e for e in range(-4, 3) for m in range(2, 10)]

fig = go.Figure()
layout = {}
annotations = []

for i, (s_cols, s_vals, n_cols, n_vals) in enumerate(PANELS):
    n = i + 1
    xref = "x" if n == 1 else f"x{n}"
    yref = "y" if n == 1 else f"y{n}"
    for col, vals in zip(s_cols, s_vals):
        fig.add_trace(go.Scatter(x=ITER_SMOOTH, y=to_mse(vals), mode="lines",
                                 line=dict(color=COLORS[col], width=2),
                                 xaxis=xref, yaxis=yref, showlegend=False,
                                 hoverinfo="skip"))
    for col, vals in zip(n_cols, n_vals):
        fig.add_trace(go.Scatter(x=ITER_NOISY, y=to_mse(vals), mode="lines",
                                 line=dict(color=COLORS[col], width=2),
                                 xaxis=xref, yaxis=yref, showlegend=False,
                                 hoverinfo="skip"))

    top = TOPS[i]
    y0 = 1 - (top + PANEL_H) / H
    y1 = 1 - top / H
    suffix = "" if n == 1 else str(n)
    layout["xaxis" + suffix] = dict(
        domain=[LEFT / W, RIGHT / W], range=[0, 1000], anchor=yref,
        automargin=False,
        tickmode="array", tickvals=X_TICKS, ticktext=[str(t) for t in X_TICKS],
        showticklabels=(n == len(PANELS)), ticks="inside", ticklen=6,
        tickwidth=1, tickcolor="black", mirror="allticks", showline=True,
        linecolor="black", linewidth=2, showgrid=False, zeroline=False,
        ticklabelstandoff=5,
        tickfont=dict(family=FONT, size=23, color="black"),
    )
    layout["yaxis" + suffix] = dict(
        domain=[y0, y1], type="log", range=[-4, 3], anchor=xref,
        automargin=False,
        tickmode="array", tickvals=Y_TICK_VALS, ticktext=Y_TICK_TEXT,
        ticks="inside", ticklen=8, tickwidth=1, tickcolor="black",
        minor=dict(tickmode="array", tickvals=Y_MINOR_VALS, ticks="inside",
                   ticklen=4, tickwidth=1, tickcolor="black", showgrid=False),
        mirror="allticks", showline=True, linecolor="black", linewidth=2,
        showgrid=False, zeroline=False, ticklabelstandoff=6,
        tickfont=dict(family=FONT, size=24, color="black"),
    )
    annotations.append(dict(
        text=PANEL_LABELS[i], xref="paper", yref="paper",
        x=28 / W, y=1 - (top + PANEL_H / 2) / H, xanchor="center",
        yanchor="middle", textangle=-90, showarrow=False,
        font=dict(family=FONT, size=24, color="black"),
    ))

annotations.append(dict(
    text="MSE on training data", xref="paper", yref="paper",
    x=(LEFT + RIGHT) / 2 / W, y=1 - 22 / H, xanchor="center", yanchor="middle",
    showarrow=False, font=dict(family=FONT, size=30, color="black"),
))
annotations.append(dict(
    text="<i>Iteration</i>", xref="paper", yref="paper",
    x=(LEFT + RIGHT) / 2 / W, y=1 - 1414 / H, xanchor="center", yanchor="middle",
    showarrow=False, font=dict(family="DejaVu Serif", size=23, color="black"),
))

fig.update_layout(
    width=W, height=H, margin=dict(l=0, r=0, t=0, b=0),
    paper_bgcolor="white", plot_bgcolor="white",
    annotations=annotations, **layout,
)

fig.write_html("out.html")
